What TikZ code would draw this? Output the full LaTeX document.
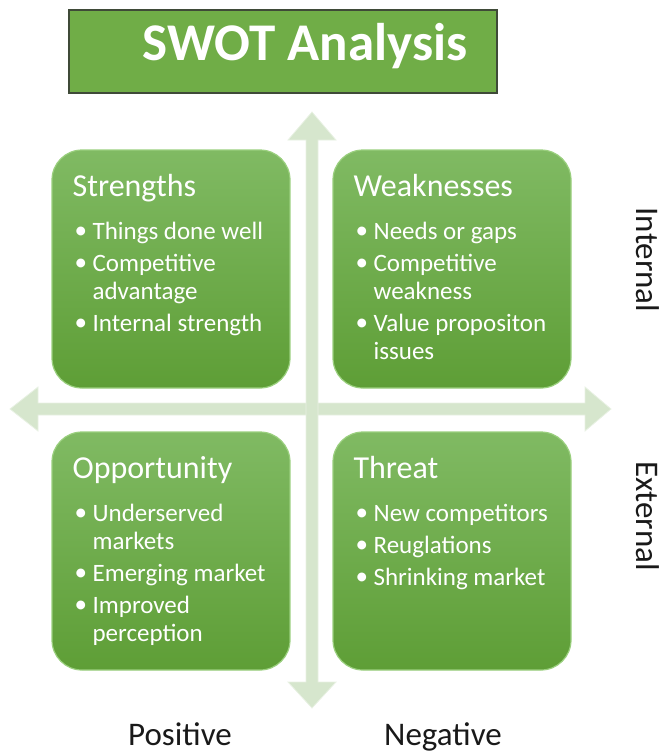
\documentclass[tikz,border=0pt]{standalone}
\usepackage{fontspec}
\setmainfont{Carlito}
\usetikzlibrary{calc}
\definecolor{titlegreen}{HTML}{70AD47}
\definecolor{titleborder}{HTML}{3F4A38}
\definecolor{cardtop}{HTML}{80BA63}
\definecolor{cardbot}{HTML}{5E9E36}
\definecolor{cardedge}{HTML}{9ACF7E}
\definecolor{arrowfill}{HTML}{D6E6CD}
\definecolor{arrowedge}{HTML}{E8F1E3}
\tikzset{
  card/.style={rectangle, rounded corners=30pt, minimum width=238pt, minimum height=238pt,
    top color=cardtop, bottom color=cardbot, draw=cardedge, line width=1.2pt, inner sep=0pt},
  cardtitle/.style={anchor=base west, inner sep=0pt, text=white, font=\fontsize{32}{36}\selectfont},
  cardlist/.style={anchor=base west, inner sep=0pt, text=white},
  sidelabel/.style={inner sep=0pt, text=black!90, font=\fontsize{33}{38}\selectfont},
  axis/.style={fill=arrowfill, draw=arrowedge, line width=0.8pt},
}
\newcommand{\bul}{\makebox[18pt][l]{\raisebox{1pt}{\textbullet}}}
\newcommand{\cardlines}[1]{\parbox[t]{230pt}{\fontsize{25}{28}\selectfont\raggedright #1}}
\begin{document}
\begin{tikzpicture}[x=1pt,y=-1pt]
\useasboundingbox (0,0) rectangle (667,756);
% axes
\coordinate (htipL) at (10,409);
\coordinate (htipR) at (611,409);
\coordinate (vtipT) at (312,112);
\coordinate (vtipB) at (312,708);
\draw[axis] (htipL) -- ++(28,-22) -- ++(0,16) -- (585,403) -- ++(0,-16) -- (htipR)
  -- (585,431) -- ++(0,-16) -- (38,415) -- ++(0,16) -- cycle;
\draw[axis] (vtipT) -- ++(24,28) -- ++(-18,0) -- (318,682) -- ++(18,0) -- (vtipB)
  -- (288,682) -- ++(18,0) -- (306,140) -- ++(-18,0) -- cycle;
% title
\node[rectangle, fill=titlegreen, draw=titleborder, line width=1.5pt,
  minimum width=428pt, minimum height=83pt, inner sep=0pt] (title) at (283,51.5) {};
\node[inner sep=0pt, text=white, font=\bfseries\fontsize{53}{58}\selectfont] (titletext) at (305,46) {SWOT Analysis};
% cards
\node[card] (S) at (171,269) {};
\node[card] (W) at (452,269) {};
\node[card] (O) at (171,551) {};
\node[card] (T) at (452,551) {};
\node[cardtitle] (St) at ($(S.north west)+(21,47)$) {Strengths};
\node[cardlist] (Sl) at ($(S.north west)+(23,90)$) {\cardlines{%
  \bul Things done well\\[4pt]
  \bul Competitive\\
  \hspace*{18pt}advantage\\[4pt]
  \bul Internal strength}};
\node[cardtitle] (Wt) at ($(W.north west)+(21,47)$) {Weaknesses};
\node[cardlist] (Wl) at ($(W.north west)+(23,90)$) {\cardlines{%
  \bul Needs or gaps\\[4pt]
  \bul Competitive\\
  \hspace*{18pt}weakness\\[4pt]
  \bul Value propositon\\
  \hspace*{18pt}issues}};
\node[cardtitle] (Ot) at ($(O.north west)+(21,47)$) {Opportunity};
\node[cardlist] (Ol) at ($(O.north west)+(23,90)$) {\cardlines{%
  \bul Underserved\\
  \hspace*{18pt}markets\\[4pt]
  \bul Emerging market\\[4pt]
  \bul Improved\\
  \hspace*{18pt}perception}};
\node[cardtitle] (Tt) at ($(T.north west)+(21,47)$) {Threat};
\node[cardlist] (Tl) at ($(T.north west)+(23,90)$) {\cardlines{%
  \bul New competitors\\[4pt]
  \bul Reuglations\\[4pt]
  \bul Shrinking market}};
% side labels
\node[sidelabel, rotate=-90] (int) at (648,260) {Internal};
\node[sidelabel, rotate=-90] (ext) at (648,516) {External};
\node[sidelabel, anchor=base] (pos) at (180,745) {Positive};
\node[sidelabel, anchor=base] (neg) at (443,745) {Negative};
\end{tikzpicture}
\end{document}
